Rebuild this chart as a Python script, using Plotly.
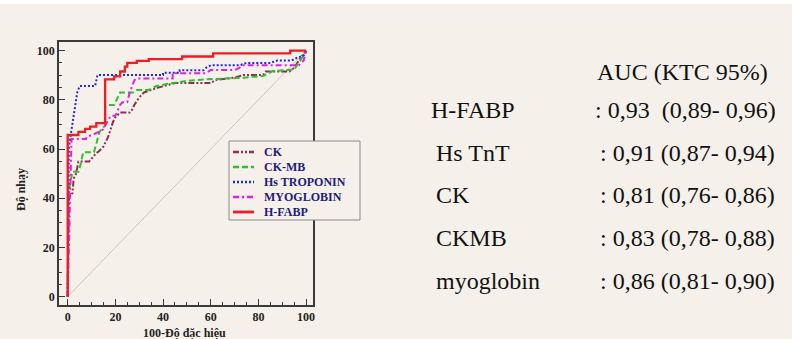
import plotly.graph_objects as go

# ---------------- data ----------------
diag_x = [0, 100]
diag_y = [0, 100]

ck_x = [0, 0.5, 2, 2.5, 3.5, 4.5, 9, 10, 12, 13, 15, 16, 17, 18, 19, 20, 22, 26, 27, 28, 30, 32, 35, 38, 42, 45, 60, 62, 70, 74, 82, 83, 93, 95, 97, 100]
ck_y = [0, 41, 42, 48, 50, 54.9, 54.9, 56, 58.4, 59, 61, 63, 65, 68, 71, 73, 74.8, 74.8, 76, 78, 81, 83, 84, 85, 86, 86.8, 86.8, 88, 89, 90.1, 90.1, 91.5, 91.5, 93, 96, 100]

ckmb_x = [0, 0.3, 1, 2, 4.5, 5.5, 6.5, 11, 12, 13, 14, 15.7, 15.7, 19.5, 21, 22, 27.5, 29, 34, 37, 42, 50, 58, 74, 82, 86, 95, 97, 99, 100]
ckmb_y = [0, 41, 46, 50.8, 50.8, 54, 58.7, 58.7, 62, 66, 68, 69.5, 77.9, 77.9, 81, 83, 83, 84, 84, 85.5, 86.5, 87.7, 88.3, 89, 89.7, 91.7, 92.3, 95, 98, 100]

tnt_x = [0, 0.5, 1, 2, 3, 4, 5, 11.5, 12.5, 40, 40, 47, 47, 57, 58, 60, 72, 75, 85, 88, 94, 96, 99, 100]
tnt_y = [0, 61, 64, 70, 77, 83, 85.6, 85.6, 90.1, 90.1, 91, 91, 92, 92, 93, 94, 94, 95, 95, 96, 96, 97, 98, 100]

myo_x = [0, 1, 1.3, 1.6, 7.7, 8, 11, 13, 15, 16, 17, 18, 20, 21, 22, 23, 25, 26, 27, 28, 29, 44, 44, 58, 60, 70, 72, 73, 97, 99, 100]
myo_y = [0, 42, 60, 64.1, 64.1, 65, 66, 67, 68, 70, 72, 73.5, 73.5, 76, 78, 79, 79, 83, 86, 88, 88.7, 88.7, 90.8, 90.8, 92.1, 92.1, 93, 94, 94, 96, 100]

hfabp_x = [0, 0, 4.5, 4.5, 7.3, 7.3, 9.4, 9.4, 12, 12, 15.7, 15.7, 19.5, 19.5, 22, 22, 24, 24, 25, 25, 29, 29, 34, 34, 48, 48, 61, 61, 93.3, 93.3, 100]
hfabp_y = [0, 65.7, 65.7, 67, 67, 68.2, 68.2, 69.1, 69.1, 70.5, 70.5, 88.3, 88.3, 89.5, 89.5, 91.5, 91.5, 93.5, 93.5, 95, 95, 95.8, 95.8, 96.5, 96.5, 97.6, 97.6, 98.9, 98.9, 100, 100]

series_names = ["CK", "CK-MB", "Hs TROPONIN", "MYOGLOBIN", "H-FABP"]
series_colors = ["#8c2f55", "#2fbf2f", "#2626d9", "#e020e0", "#ee1c24"]
series_dash = ["6px,2px,2px,2px,2px,2px", "6px,3px", "2px,2px", "6px,3px,2px,3px", "solid"]
series_width = [2, 2, 2, 2, 2.3]

x_ticks = [0, 20, 40, 60, 80, 100]
y_ticks = [0, 20, 40, 60, 80, 100]

auc_header = "AUC (KTC 95%)"
auc_names = ["H-FABP", "Hs TnT", "CK", "CKMB", "myoglobin"]
auc_values = [": 0,93\u00a0\u00a0(0,89- 0,96)", ": 0,91 (0,87- 0,94)", ": 0,81 (0,76- 0,86)",
              ": 0,83 (0,78- 0,88)", ": 0,86 (0,81- 0,90)"]

# ---------------- figure ----------------
BG = "#f5f1ea"
SERIF = "Liberation Serif"

fig = go.Figure()
fig.add_trace(go.Scatter(x=diag_x, y=diag_y, mode="lines", line=dict(color="#c9c6c2", width=1),
                         showlegend=False, hoverinfo="skip"))

all_x = [ck_x, ckmb_x, tnt_x, myo_x, hfabp_x]
all_y = [ck_y, ckmb_y, tnt_y, myo_y, hfabp_y]
for xs, ys, name, col, dash, w in zip(all_x, all_y, series_names, series_colors, series_dash, series_width):
    fig.add_trace(go.Scatter(x=xs, y=ys, mode="lines", name=name,
                             line=dict(color=col, dash=dash, width=w), showlegend=False))

# plot area in pixels: x 59..313, y 42..305
L, R, T, B = 59, 313, 42, 305
W, H = R - L, B - T


def px(xp):
    return (xp - L) / W


def py(yp):
    return (B - yp) / H


axis_common = dict(
    showgrid=False, zeroline=False, showline=True, mirror=True,
    linecolor="#3a3a3a", linewidth=1.6,
    ticks="inside", ticklen=6, tickwidth=1.3, tickcolor="#3a3a3a",
    tickfont=dict(family=SERIF, size=12, color="#222222", weight="bold"),
    minor=dict(ticks="inside", ticklen=3, dtick=5, tickcolor="#3a3a3a", tickwidth=1),
)

fig.update_layout(
    width=792, height=339,
    margin=dict(l=L, r=792 - R, t=T, b=339 - B),
    paper_bgcolor=BG, plot_bgcolor=BG,
    xaxis=dict(range=[-3.65, 102.9], tickvals=x_ticks, **axis_common),
    yaxis=dict(range=[-3.4, 103.5], tickvals=y_ticks, **axis_common),
    showlegend=False,
)

annotations = []
# axis titles
annotations.append(dict(text="100-Độ đặc hiệu", xref="paper", yref="paper", x=px(184), y=py(333),
                        showarrow=False, xanchor="center", yanchor="middle",
                        font=dict(family=SERIF, size=12, color="#222222", weight="bold")))
annotations.append(dict(text="Độ nhạy", xref="paper", yref="paper", x=px(21), y=py(190),
                        showarrow=False, xanchor="center", yanchor="middle", textangle=-90,
                        font=dict(family=SERIF, size=12, color="#222222", weight="bold")))

shapes = []
# top white strip
shapes.append(dict(type="rect", xref="paper", yref="paper", x0=px(0), x1=px(792), y0=py(0), y1=py(4),
                   fillcolor="white", line=dict(width=0), layer="above"))

# legend box
shapes.append(dict(type="rect", xref="paper", yref="paper", x0=px(229), x1=px(360), y0=py(141), y1=py(220),
                   fillcolor=BG, line=dict(color="#8a8a8a", width=1), layer="above"))
row_y = [152, 167, 182, 197, 212]
for name, col, dash, w, ry in zip(series_names, series_colors, series_dash, series_width, row_y):
    shapes.append(dict(type="line", xref="paper", yref="paper", x0=px(233), x1=px(254), y0=py(ry), y1=py(ry),
                       line=dict(color=col, dash=dash, width=w + 0.5), layer="above"))
    annotations.append(dict(text=name, xref="paper", yref="paper", x=px(262), y=py(ry),
                            showarrow=False, xanchor="left", yanchor="middle",
                            font=dict(family=SERIF, size=12, color="#1c1c7a", weight="bold")))

# AUC table
TFONT = dict(family=SERIF, size=24, color="#111111")
annotations.append(dict(text=auc_header, xref="paper", yref="paper", x=px(595), y=py(72),
                        showarrow=False, xanchor="left", yanchor="middle", font=TFONT))
name_x = [429, 434, 434, 434, 434]
val_x = [593, 598, 598, 598, 598]
text_y = [110, 153, 195, 238, 281]
for nm, val, nx, vx, ty in zip(auc_names, auc_values, name_x, val_x, text_y):
    annotations.append(dict(text=nm, xref="paper", yref="paper", x=px(nx), y=py(ty),
                            showarrow=False, xanchor="left", yanchor="middle", font=TFONT))
    annotations.append(dict(text=val, xref="paper", yref="paper", x=px(vx), y=py(ty),
                            showarrow=False, xanchor="left", yanchor="middle", font=TFONT))

fig.update_layout(annotations=annotations, shapes=shapes)
fig.write_html("out.html")
